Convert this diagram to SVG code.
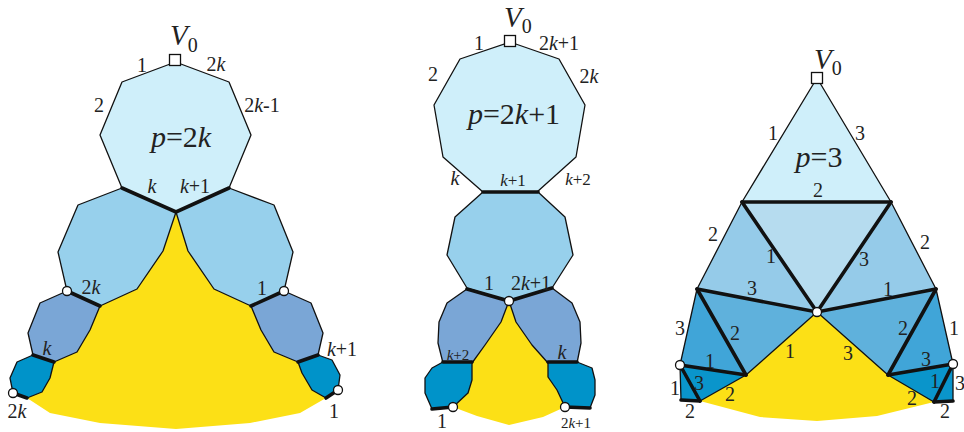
<svg xmlns="http://www.w3.org/2000/svg" width="964" height="432" viewBox="0 0 964 432" font-family="'Liberation Serif', 'DejaVu Serif', serif">
<style>
.f{stroke:#111;stroke-width:1.3;stroke-linejoin:round}
.c0{fill:#cfeffa}.c1{fill:#97d0ec}.c2{fill:#7aa6d6}.c3{fill:#0093c9}
.y{fill:#fce016;stroke:none}
.t1{fill:#b6dcef}.t2{fill:#95cbe9}.t3{fill:#5fb1dc}.t4{fill:#40a5d8}.t5{fill:#0a95cb}
.th{stroke:#111;stroke-width:3.6;fill:none;stroke-linecap:round}
.dot{fill:#fff;stroke:#111;stroke-width:1.3}
.sq{fill:#fff;stroke:#111;stroke-width:1.3}
text{font-family:"Liberation Serif","DejaVu Serif",serif;fill:#222;font-size:20px;text-anchor:middle}
.i{font-style:italic}
.big{font-size:30px}
.sm{font-size:17px}
.xs{font-size:15px}
.v{text-anchor:start}
</style>
<g id="left-figure">
<polygon class="y" points="176,212 188,251 214,289 251,306 261,330 274,352 298,362 302,373 312,390 326,398 300,413 250,423 176,429 100,423 50,413 27,398 42,392 50,378 54,362 77,352 90,330 100,306 137,289 163,251"/>
<g id="L0"><polygon class="f c0" points="175.5,62 229,82 251,135 229,188 176,212 122,188 100,135 122,82"/></g>
<g id="L1a"><polygon class="f c1" points="176,212 122,188 78,205 58,252 67,291 100,306 137,289 163,251"/></g>
<g id="L1b"><polygon class="f c1" points="176,212 229,188 274,205 293,252 284,291 251,306 214,289 188,251"/></g>
<g id="L2a"><polygon class="f c2" points="67,291 40,303 28,333 33,355 54,362 77,352 90,330 100,306"/></g>
<g id="L2b"><polygon class="f c2" points="284,291 311,303 323,333 318,355 298,362 274,352 261,330 251,306"/></g>
<g id="L3a"><polygon class="f c3" points="33,355 54,362 50,378 42,392 27,398 13,393 10,378 17,362"/></g>
<g id="L3b"><polygon class="f c3" points="318,355 332,360 340,375 338,390 326,398 312,390 302,373 298,362"/></g>
</g>
<g id="middle-figure">
<polygon class="y" points="509,301 501,322 485,345 472,363 472,380 468,393 453,407 477,416 509,425 543,417 565,407 557,390 548,377 548,362 532,345 516,322"/>
<g id="M0"><polygon class="f c0" points="510,42 559,59 585,105 576,157 537,192 483,192 443,157 434,105 460,59"/></g>
<g id="M1"><polygon class="f c1" points="483,192 538,192 565,217 573,255 552,288 509,301 467,288 447,255 455,217"/></g>
<g id="M2a"><polygon class="f c2" points="467,289 509,301 501,322 485,345 472,363 443,363 438,343 439,322 447,303"/></g>
<g id="M2b"><polygon class="f c2" points="552,288 509,301 516,322 532,345 548,363 577,363 581,343 580,322 572,303"/></g>
<g id="M3a"><polygon class="f c3" points="443,362 472,362 472,380 468,393 453,407 432,409 425,393 425,378 432,368"/></g>
<g id="M3b"><polygon class="f c3" points="548,362 577,362 592,368 595,380 595,395 590,408 565,407 557,390 548,377"/></g>
</g>
<g id="right-figure">
<polygon class="y" points="817,312 746,375 700,401 760,417 817,421 877,416 934,402 888,375"/>
<g id="R0"><polygon class="f c0" points="817,78 742,202 891,202"/></g>
<g id="R1"><polygon class="f t1" points="742,202 891,202 817,312"/></g>
<g id="R2a"><polygon class="f t2" points="742,202 697,289 817,312"/></g>
<g id="R2b"><polygon class="f t2" points="891,202 936,289 817,312"/></g>
<g id="R3a"><polygon class="f t3" points="697,289 817,312 746,375"/></g>
<g id="R3b"><polygon class="f t3" points="936,289 817,312 888,375"/></g>
<g id="R4a"><polygon class="f t4" points="697,289 746,375 680,365"/></g>
<g id="R4b"><polygon class="f t4" points="936,289 888,375 953,364"/></g>
<g id="R5a"><polygon class="f t5" points="680,365 746,375 700,401"/><polygon class="f t5" points="680,365 700,401 681,400"/></g>
<g id="R5b"><polygon class="f t5" points="953,364 888,375 934,402"/><polygon class="f t5" points="953,364 934,402 953,401"/></g>
</g>
<g id="connectors">
<polyline class="th" points="122,188 176,212 229,188"/>
<line class="th" x1="67" y1="291" x2="100" y2="306"/>
<line class="th" x1="251" y1="306" x2="284" y2="291"/>
<line class="th" x1="33" y1="355" x2="54" y2="362"/>
<line class="th" x1="298" y1="362" x2="318" y2="355"/>
<line class="th" x1="13" y1="393" x2="27" y2="398"/>
<line class="th" x1="326" y1="398" x2="338" y2="390"/>
<line class="th" x1="483" y1="192" x2="538" y2="192"/>
<polyline class="th" points="467,289 509,301 552,288"/>
<line class="th" x1="443" y1="362" x2="472" y2="362"/>
<line class="th" x1="548" y1="362" x2="577" y2="362"/>
<line class="th" x1="432" y1="409" x2="453" y2="407"/>
<line class="th" x1="565" y1="407" x2="590" y2="408"/>
<line class="th" x1="742" y1="202" x2="891" y2="202"/>
<polyline class="th" points="742,202 817,312 891,202"/>
<polyline class="th" points="697,289 817,312 936,289"/>
<line class="th" x1="697" y1="289" x2="746" y2="375"/>
<line class="th" x1="936" y1="289" x2="888" y2="375"/>
<line class="th" x1="680" y1="365" x2="746" y2="375"/>
<line class="th" x1="953" y1="364" x2="888" y2="375"/>
<line class="th" x1="680" y1="365" x2="700" y2="401"/>
<line class="th" x1="953" y1="364" x2="934" y2="402"/>
<line class="th" x1="681" y1="400" x2="700" y2="401"/>
<line class="th" x1="934" y1="402" x2="953" y2="401"/>
</g>
<g id="markers">
<rect class="sq" x="169.5" y="54.5" width="11" height="11"/>
<rect class="sq" x="504.5" y="35.5" width="11" height="11"/>
<rect class="sq" x="811.5" y="72.5" width="11" height="11"/>
<circle class="dot" cx="67" cy="291" r="4.5"/>
<circle class="dot" cx="284" cy="291" r="4.5"/>
<circle class="dot" cx="13" cy="393" r="4.5"/>
<circle class="dot" cx="338" cy="390" r="4.5"/>
<circle class="dot" cx="509" cy="301" r="4.5"/>
<circle class="dot" cx="453" cy="407" r="4.5"/>
<circle class="dot" cx="565" cy="407" r="4.5"/>
<circle class="dot" cx="817" cy="312" r="4.5"/>
<circle class="dot" cx="680" cy="365" r="4.5"/>
<circle class="dot" cx="953" cy="364" r="4.5"/>
</g>
<g id="labels-left">
<text x="170" y="45" class="v"><tspan class="i" style="font-size:29px">V</tspan><tspan dy="7">0</tspan></text>
<text x="142" y="72">1</text>
<text x="216" y="71">2<tspan class="i">k</tspan></text>
<text x="99" y="112">2</text>
<text x="262" y="112">2<tspan class="i">k</tspan>-1</text>
<text x="181" y="147" class="big"><tspan class="i">p</tspan>=2<tspan class="i">k</tspan></text>
<text x="152" y="193" class="i">k</text>
<text x="195" y="193"><tspan class="i">k</tspan>+1</text>
<text x="91" y="294">2<tspan class="i">k</tspan></text>
<text x="262" y="295">1</text>
<text x="47" y="355" class="i">k</text>
<text x="342" y="356"><tspan class="i">k</tspan>+1</text>
<text x="17" y="418">2<tspan class="i">k</tspan></text>
<text x="334" y="418">1</text>
</g>
<g id="labels-middle">
<text x="504" y="27" class="v"><tspan class="i" style="font-size:29px">V</tspan><tspan dy="6">0</tspan></text>
<text x="479" y="50">1</text>
<text x="559" y="50">2<tspan class="i">k</tspan>+1</text>
<text x="433" y="81">2</text>
<text x="589" y="83">2<tspan class="i">k</tspan></text>
<text x="514" y="124" class="big"><tspan class="i">p</tspan>=2<tspan class="i">k</tspan>+1</text>
<text x="455" y="185" class="i">k</text>
<text x="513" y="186" class="sm"><tspan class="i">k</tspan>+1</text>
<text x="578" y="185" class="sm"><tspan class="i">k</tspan>+2</text>
<text x="489" y="290">1</text>
<text x="531" y="290">2<tspan class="i">k</tspan>+1</text>
<text x="458" y="360" class="xs"><tspan class="i">k</tspan>+2</text>
<text x="562" y="359" class="i">k</text>
<text x="442" y="428">1</text>
<text x="576" y="428" class="xs">2<tspan class="i">k</tspan>+1</text>
</g>
<g id="labels-right">
<text x="814" y="69" class="v"><tspan class="i" style="font-size:29px">V</tspan><tspan dy="6">0</tspan></text>
<text x="773" y="140">1</text>
<text x="860" y="140">3</text>
<text x="819" y="167" class="big"><tspan class="i">p</tspan>=3</text>
<text x="818" y="197">2</text>
<text x="713" y="241">2</text>
<text x="771" y="263">1</text>
<text x="864" y="266">3</text>
<text x="925" y="249">2</text>
<text x="752" y="295">3</text>
<text x="888" y="296">1</text>
<text x="680" y="335">3</text>
<text x="735" y="340">2</text>
<text x="903" y="335">2</text>
<text x="954" y="335">1</text>
<text x="790" y="358">1</text>
<text x="848" y="360">3</text>
<text x="710" y="368">1</text>
<text x="926" y="366">3</text>
<text x="699" y="390">3</text>
<text x="675" y="395">1</text>
<text x="730" y="401">2</text>
<text x="935" y="388">1</text>
<text x="960" y="390">3</text>
<text x="912" y="405">2</text>
<text x="690" y="418">2</text>
<text x="945" y="418">2</text>
</g>
</svg>
